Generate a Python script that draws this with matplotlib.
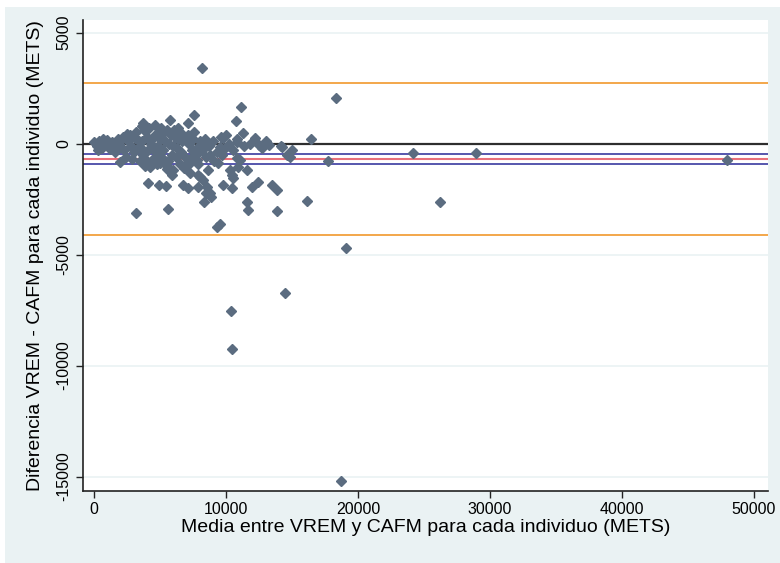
import matplotlib
matplotlib.use("Agg")
import matplotlib.pyplot as plt
from matplotlib.patches import Rectangle

# ---- data ----
media = [
    # dense cluster
    0, 200, 400, 600, 800, 1000, 1200, 1400, 1600, 1800, 2000, 2200, 2400, 2600,
    300, 700, 1100, 1500, 1900, 2300,
    2700, 2900, 3100, 2800, 3000, 2500, 3200, 3300, 3400, 3500,
    3600, 3800, 4000, 4200, 4400, 4600, 4800, 5000, 3700, 3900, 4100, 4300,
    4500, 4700, 4900, 3650, 4050, 4450, 4850, 5050, 3550, 4250, 4650, 5100,
    5200, 5400, 5600, 5800, 6000, 6200, 6400, 6600, 6800, 7000, 7200, 7400,
    7600, 7800, 8000, 5300, 5500, 5700, 5900, 6100, 6300, 6500, 6700, 6900,
    7100, 7300, 7500, 7700, 7900, 5250, 6050, 6850, 5650, 6450, 7250,
    8200, 8400, 8700, 9000, 9300, 9600, 9900, 10200, 10500, 10800, 8500, 9100,
    9700, 10000, 11400, 11800, 12500, 13000, 14200, 15000,
    # spread points
    11140, 10730, 7580, 7150, 5760, 3735, 5510, 6390, 6515, 4110, 4950, 5450,
    3180, 5580, 8330, 9545, 9295, 6765, 7145, 7270, 8030, 8660, 7900, 8540,
    8790, 9795, 10430, 10550, 10300, 11060, 11570, 11950, 12450, 13460, 13840,
    11570, 11690, 13840, 14600, 14850, 14220, 13280, 12700, 12200, 11310, 10810,
    9795, 9545, 9420, 8790, 8410, 7270, 7780, 10810, 10930, 10430, 7880, 8260,
    8490, 8865, 5555, 6010, 5885, 5000, 1970,
    # outliers
    8159, 18310, 16440, 17700, 24140, 28940, 47980, 16110, 26190, 19090,
    14470, 10380, 10430, 18710,
]
diferencia = [
    50, -100, 100, -200, 0, 150, -250, 50, -400, 200, -150, 300, -600, 100,
    -300, 200, -50, -150, 0, -300,
    400, -700, 250, -100, -400, 450, 500, -200, 100, -800,
    800, 600, 300, 700, -200, 400, -900, 200, -500, -1000, -300, 0,
    -700, -400, 500, 100, -800, 250, -100, -600, -200, -1050, 850, 700,
    -300, 100, -800, 400, -100, -600, 200, -400, 300, -900, 0, -300,
    500, -200, 100, 500, -1000, 0, -500, 300, -200, -900, 100, -600,
    400, -700, 200, -500, -900, -700, 600, -1100, -1100, 500, 250,
    -300, 200, -100, 100, -400, 300, -200, 0, -300, 200, -600, -800,
    -500, 400, -100, 0, -50, 100, -100, -300,
    1633, 1015, 1286, 911, 1060, 911, 609, 686, 532, -1768, -1872, -1917,
    -3121, -2954, -2652, -3600, -3753, -1872, -2021, -1344, -1498, -1195, -1949, -1949,
    -2246, -1872, -2021, -1570, -1195, -744, -1195, -1949, -1723, -1872, -2097,
    -2625, -3000, -3031, -519, -595, -171, -68, -217, 235, 460, 81,
    235, -144, -893, -519, -144, -893, -744, -668, -1046, -1421, -1421, -1646,
    -2233, -2413, -1150, -1195, -1421, -893, -821,
    3392, 2039, 217, -789, -428, -428, -731, -2594, -2625, -4700,
    -6730, -7542, -9269, -15210,
]

media_dif = -700
ic_inf, ic_sup = -940, -460
lim_inf, lim_sup = -4100, 2715

xticks = [0, 10000, 20000, 30000, 40000, 50000]
yticks = [-15000, -10000, -5000, 0, 5000]

W, H = 780, 563
fig = plt.figure(figsize=(W / 100, H / 100), dpi=100, facecolor="white")
fig.patches.append(Rectangle((5 / W, 0), 1 - 5 / W, 1 - 7 / H, transform=fig.transFigure,
                             facecolor="#EAF2F3", edgecolor="none", zorder=-10))

left, right, bottom, top = 82.5, 768, 491, 19.5
ax = fig.add_axes([left / W, 1 - bottom / H, (right - left) / W, (bottom - top) / H])
ax.set_facecolor("white")

ax.set_xlim(-870, 51060)
ax.set_ylim(-15650, 5590)

for t in yticks:
    ax.axhline(t, color="#EAF2F3", lw=1.2, zorder=0)

ax.axhline(0, color="#2E2E2E", lw=1.6, zorder=1)
ax.axhline(lim_sup, color="#F2A03D", lw=1.3, zorder=1)
ax.axhline(lim_inf, color="#F2A03D", lw=1.3, zorder=1)
ax.axhline(ic_sup, color="#3A3AA0", lw=1.2, zorder=1)
ax.axhline(ic_inf, color="#3A3AA0", lw=1.2, zorder=1)
ax.axhline(media_dif, color="#E8707A", lw=1.5, zorder=1)

ax.plot(media, diferencia, linestyle="none", marker="D", markersize=5.4,
        color="#5B6C80", markeredgecolor="#5B6C80", zorder=3)

for s in ["top", "right"]:
    ax.spines[s].set_visible(False)
for s in ["left", "bottom"]:
    ax.spines[s].set_color("#222222")
    ax.spines[s].set_linewidth(1.2)

font = "Liberation Sans"
ax.set_xticks(xticks)
ax.set_yticks(yticks)
ax.set_xticklabels([str(t) for t in xticks], family=font, fontsize=11.5)
ax.set_yticklabels([str(t) for t in yticks], family=font, fontsize=11.5,
                   rotation=90, va="center")
ax.tick_params(axis="both", direction="out", length=5, width=1, color="#222222", pad=3)

ax.set_xlabel("Media entre VREM y CAFM para cada individuo (METS)", family=font,
              fontsize=14, labelpad=1)
ax.set_ylabel("Diferencia VREM - CAFM para cada individuo (METS)", family=font,
              fontsize=14, labelpad=9)

fig.savefig("out.png", dpi=100, facecolor=fig.get_facecolor())
